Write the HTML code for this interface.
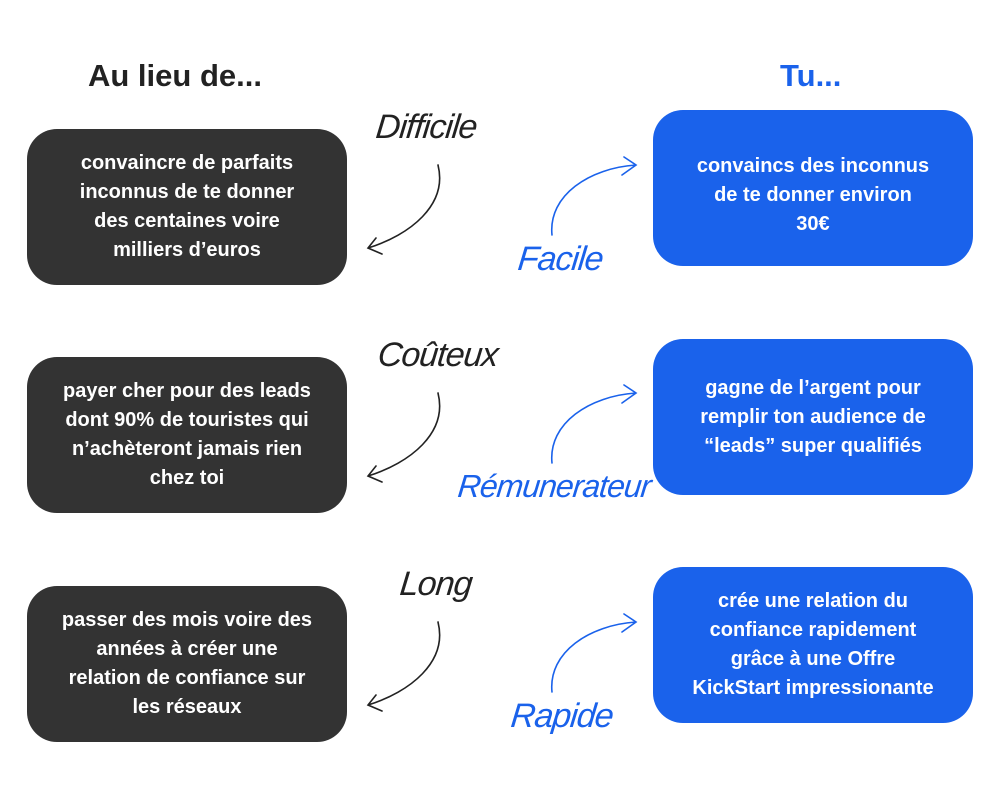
<!DOCTYPE html>
<html><head><meta charset="utf-8"><style>
body{margin:0;width:1000px;height:800px;background:#fff;position:relative;overflow:hidden;font-family:"Liberation Sans",sans-serif}
.b{position:absolute;width:320px;height:156px;border-radius:30px;color:#fff;font-weight:bold;font-size:20px;line-height:29px;display:flex;align-items:center;justify-content:center;text-align:center;box-sizing:border-box;padding:0 6px;white-space:nowrap}
.d{background:#333333;left:27px}
.u{background:#1a62eb;left:653px}
.h{position:absolute;font-weight:bold;font-size:31px}
.w{position:absolute;font-style:italic;font-size:34px;font-family:"Liberation Sans",sans-serif;letter-spacing:-1px;transform:skewX(-6deg)}
</style></head><body>
<div class="h" style="left:88px;top:58px;color:#222">Au lieu de...</div>
<div class="h" style="left:780px;top:58px;color:#1a62eb">Tu...</div>

<div class="b d" style="top:129px">convaincre de parfaits<br>inconnus de te donner<br>des centaines voire<br>milliers d’euros</div>
<div class="b u" style="top:110px;padding-top:14px">convaincs des inconnus<br>de te donner environ<br>30€</div>
<div class="b d" style="top:357px">payer cher pour des leads<br>dont 90% de touristes qui<br>n’achèteront jamais rien<br>chez toi</div>
<div class="b u" style="top:339px">gagne de l’argent pour<br>remplir ton audience de<br>“leads” super qualifiés</div>
<div class="b d" style="top:586px">passer des mois voire des<br>années à créer une<br>relation de confiance sur<br>les réseaux</div>
<div class="b u" style="top:567px">crée une relation du<br>confiance rapidement<br>grâce à une Offre<br>KickStart impressionante</div>

<div class="w" style="left:376px;top:108px;color:#222">Difficile</div>
<div class="w" style="left:518px;top:240px;color:#1a62eb">Facile</div>
<div class="w" style="left:378px;top:336px;color:#222">Coûteux</div>
<div class="w" style="left:458px;top:468px;color:#1a62eb;font-size:32px">Rémunerateur</div>
<div class="w" style="left:400px;top:565px;color:#222">Long</div>
<div class="w" style="left:511px;top:697px;color:#1a62eb">Rapide</div>

<svg width="1000" height="800" style="position:absolute;left:0;top:0" fill="none" stroke-width="1.6" stroke-linecap="round">
<g id="r1">
<path d="M438 165 C448 205 410 235 368 248 M376 238 L368 248 L382 254" stroke="#222"/>
<path d="M552 235 C548 195 590 168 636 165 M624 157 L636 165 L622 175" stroke="#1a62eb"/>
</g>
<use href="#r1" y="228"/>
<use href="#r1" y="457"/>
</svg>
</body></html>
